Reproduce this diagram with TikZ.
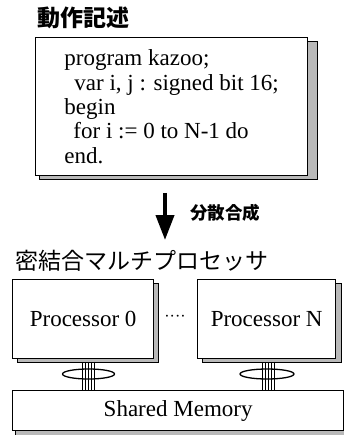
\documentclass[tikz,border=0pt]{standalone}
\usepackage{fontspec}
\setmainfont{Liberation Serif}
\newfontfamily\jp{Noto Sans CJK JP}
\usetikzlibrary{arrows.meta}
\setlength{\lineskiplimit}{-30pt}
\begin{document}
\begin{tikzpicture}[x=1pt,y=-1pt,
  shade/.style={draw=black, line width=0.7pt, fill=gray!55},
  box/.style={draw=black, line width=1.3pt, fill=white, inner sep=0pt},
  lat/.style={font=\fontsize{23}{24.3}\selectfont},
  jpb/.style={font=\jp\bfseries\fontsize{23}{23}\selectfont, inner sep=0pt},
  jps/.style={font=\jp\bfseries\fontsize{17.5}{17.5}\selectfont, inner sep=0pt},
  jpn/.style={font=\jp\fontsize{23}{23}\selectfont, inner sep=0pt},
  busline/.style={line width=0.9pt},
  ring/.style={line width=1.3pt},
  bigarrow/.style={line width=4pt, -{Triangle[length=25pt,width=18pt]}}
]
\useasboundingbox (0,0) rectangle (344,435);

% title
\node[jpb, anchor=west] (t1) at (37,18) {動作記述};

% code box
\fill[shade] (39,41) rectangle (317,179);
\node[box, lat, anchor=north west, minimum width=272pt, minimum height=138pt, align=left] (code) at (35,37)
 {program kazoo;\\
  \hspace*{10pt}var i, j : signed bit 16;\\
  begin\\
  \hspace*{9pt}for i := 0 to N-1 do\\
  end.};

% arrow
\coordinate (a0) at (165,193);
\coordinate (a1) at (165,240);
\draw[bigarrow] (a0) -- (a1);
\node[jps, anchor=west] (lab) at (190,213) {分散合成};

% multiprocessor title
\node[jpn, anchor=west] (t2) at (15,261) {密結合マルチプロセッサ};

% processors
\fill[shade] (17,283) rectangle (158,362);
\node[box, lat, anchor=north west, minimum width=141pt, minimum height=79pt] (p0) at (12,279) {Processor 0};
\fill[shade] (202,283) rectangle (341,362);
\node[box, lat, anchor=north west, minimum width=138pt, minimum height=79pt] (pn) at (197,279) {Processor N};
\node[font=\fontsize{16}{16}\selectfont, inner sep=0pt] (dots) at (175,318) {····};

% shared memory
\fill[shade] (15,394) rectangle (350,440);
\node[box, lat, anchor=north west, minimum width=331pt, minimum height=40pt] (mem) at (12,390) {Shared Memory};

% buses
\coordinate (b0t) at (88.5,362);
\coordinate (b0b) at (88.5,390);
\coordinate (bnt) at (268,362);
\coordinate (bnb) at (268,390);
\foreach \dx in {-6,-3,0,3,6} {
  \draw[busline] ([xshift=\dx pt]b0t) -- ([xshift=\dx pt]b0b);
  \draw[busline] ([xshift=\dx pt]bnt) -- ([xshift=\dx pt]bnb);
}
\coordinate (e0) at (88.5,374);
\coordinate (en) at (267,374);
\draw[ring] (e0) ellipse [x radius=26pt, y radius=5pt];
\draw[ring] (en) ellipse [x radius=27pt, y radius=5pt];
\end{tikzpicture}
\end{document}
